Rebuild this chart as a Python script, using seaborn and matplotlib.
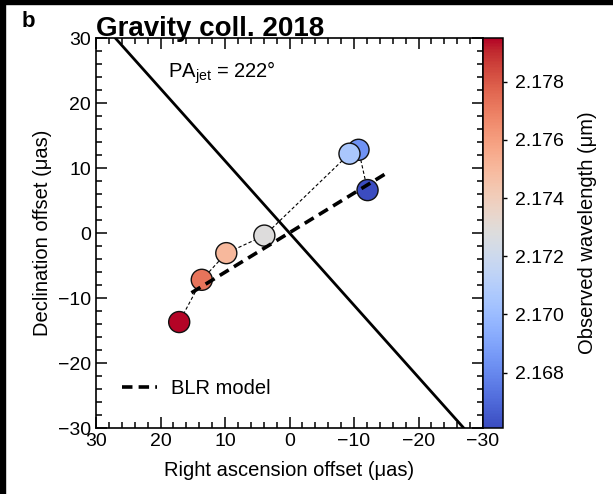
import numpy as np
import pandas as pd
import matplotlib
matplotlib.use("Agg")
import matplotlib.pyplot as plt
import seaborn as sns
from matplotlib.colors import Normalize
from matplotlib.cm import ScalarMappable
from matplotlib.patches import Rectangle
from matplotlib.ticker import MultipleLocator

# ---- data ----
ra_offset = [-12.1, -10.7, -9.3, 3.9, 9.8, 13.6, 17.1]
dec_offset = [6.6, 12.8, 12.2, -0.4, -3.1, -7.2, -13.7]
wavelength = [2.1661, 2.16833, 2.17057, 2.1728, 2.17503, 2.17727, 2.1795]

blr_ra = [15.2, -15.2]
blr_dec = [-9.2, 9.3]

pa_jet_deg = 222
jet_extent = [-45, 45]

x_ticks = [30, 20, 10, 0, -10, -20, -30]
y_ticks = [-30, -20, -10, 0, 10, 20, 30]
cbar_ticks = [2.168, 2.170, 2.172, 2.174, 2.176, 2.178]

df = pd.DataFrame({"ra": ra_offset, "dec": dec_offset, "wl": wavelength})
pa = np.deg2rad(pa_jet_deg)
jet_df = pd.DataFrame({"ra": np.array(jet_extent) * np.sin(pa),
                       "dec": np.array(jet_extent) * np.cos(pa)})
blr_df = pd.DataFrame({"ra": blr_ra, "dec": blr_dec})

sns.set_style("ticks")
plt.rcParams["font.family"] = ["Liberation Sans", "DejaVu Sans"]
plt.rcParams["mathtext.fontset"] = "custom"
plt.rcParams["mathtext.rm"] = "Liberation Sans"
plt.rcParams["mathtext.it"] = "Liberation Sans"
for k in ["text.color", "axes.labelcolor", "xtick.color", "ytick.color",
          "axes.edgecolor"]:
    plt.rcParams[k] = "black"

W, H = 613, 494
fig = plt.figure(figsize=(W / 100, H / 100), dpi=100)
ax_l, ax_r, ax_t, ax_b = 96, 483, 38, 428
ax = fig.add_axes([ax_l / W, 1 - ax_b / H, (ax_r - ax_l) / W, (ax_b - ax_t) / H])
cax = fig.add_axes([ax_r / W, 1 - ax_b / H, 20 / W, (ax_b - ax_t) / H])

norm = Normalize(vmin=min(wavelength), vmax=max(wavelength))
cmap = "coolwarm"

# jet direction line
sns.lineplot(data=jet_df, x="ra", y="dec", ax=ax, color="black", lw=2.0,
             sort=False, zorder=2)
# connecting thin dashed line
sns.lineplot(data=df, x="ra", y="dec", ax=ax, color="black", lw=0.8,
             sort=False, zorder=2, linestyle=(0, (3, 2)))
# points
sns.scatterplot(data=df, x="ra", y="dec", hue="wl", palette=cmap, hue_norm=norm,
                ax=ax, s=230, edgecolor="#111111", linewidth=1.0, legend=False,
                zorder=3)
# BLR model
ax.plot(blr_df["ra"], blr_df["dec"], color="black", lw=2.6,
        linestyle=(0, (2.9, 1.7)), zorder=4, label="BLR model")

ax.set_xlim(30, -30)
ax.set_ylim(-30, 30)
ax.set_xticks(x_ticks)
ax.set_yticks(y_ticks)
ax.xaxis.set_minor_locator(MultipleLocator(2))
ax.yaxis.set_minor_locator(MultipleLocator(2))
ax.tick_params(which="both", direction="in", top=True, right=True,
               labelsize=14, width=1.1, color="black", labelcolor="black")
ax.tick_params(which="major", length=8)
ax.tick_params(which="minor", length=4.5)
for s in ax.spines.values():
    s.set_linewidth(1.2)
    s.set_color("black")
ax.set_xlabel("Right ascension offset (\u03bcas)", fontsize=14.5, labelpad=8,
              color="black")
ax.set_ylabel("Declination offset (\u03bcas)", fontsize=14.5, labelpad=4,
              color="black")

ax.text(0.186, 0.897, "PA$_{\\rm jet}$ = 222\u00b0",
        transform=ax.transAxes, fontsize=14.5, ha="left", va="baseline",
        color="black")
ax.text(0.0, 1.005, "Gravity coll. 2018", transform=ax.transAxes,
        fontsize=20, fontweight="bold", ha="left", va="baseline", color="black")
fig.text(22 / W, 1 - 27 / H, "b", fontsize=16, fontweight="bold",
         ha="left", va="baseline", color="black")

leg = ax.legend(loc="lower left", frameon=False, fontsize=14.5,
                handlelength=1.75, handletextpad=0.7,
                bbox_to_anchor=(0.02, 0.03))
for t in leg.get_texts():
    t.set_color("black")

sm = ScalarMappable(norm=norm, cmap=cmap)
cb = fig.colorbar(sm, cax=cax, ticks=cbar_ticks, format="%.3f")
cb.outline.set_linewidth(1.1)
cb.outline.set_edgecolor("black")
cax.tick_params(labelsize=14, length=3, width=1, direction="out", pad=6,
                color="black", labelcolor="black")
cb.set_label("Observed wavelength (\u03bcm)", fontsize=14.5, labelpad=10,
             color="black")

# black frame strips along the left and top edges of the image
fig.add_artist(Rectangle((0, 0), 5 / W, 1, transform=fig.transFigure,
                         color="black", zorder=10))
fig.add_artist(Rectangle((0, 1 - 4 / H), 1, 4 / H, transform=fig.transFigure,
                         color="black", zorder=10))

fig.savefig("out.png", dpi=100)
